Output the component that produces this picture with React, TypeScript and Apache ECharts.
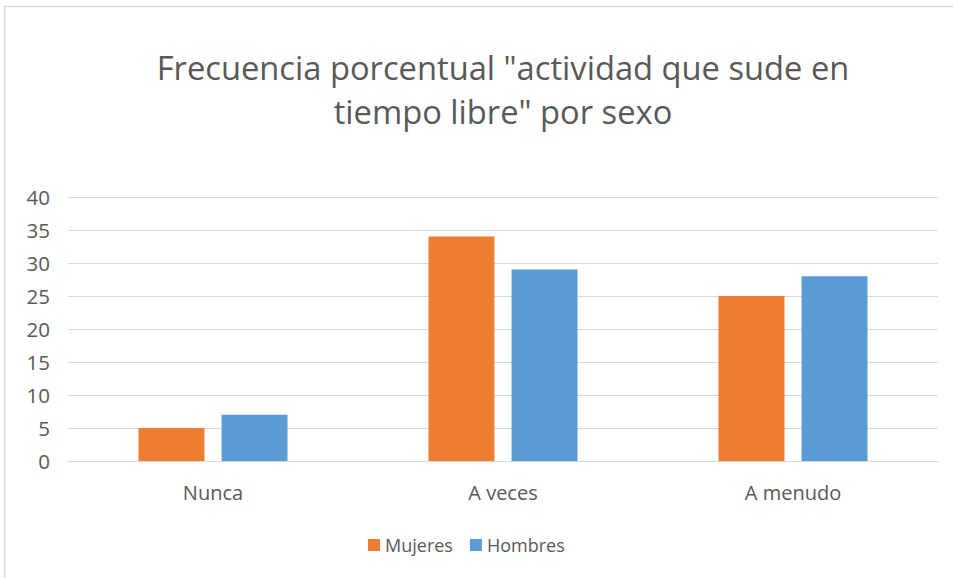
import React, { useEffect, useRef } from "react";
import * as echarts from "echarts";

const categories = ["Nunca", "A veces", "A menudo"];
const mujeres = [5, 34, 25];
const hombres = [7, 29, 28];
const yTicks = { min: 0, max: 40, interval: 5 };
const titleLines = ['Frecuencia porcentual "actividad que sude en', 'tiempo libre" por sexo'];

export default function App() {
  const ref = useRef<HTMLDivElement>(null);
  useEffect(() => {
    if (!ref.current) return;
    const chart = echarts.init(ref.current, undefined, { renderer: "svg" });
    const font = "Open Sans";
    const textColor = "#595959";
    chart.setOption({
      animation: false,
      backgroundColor: "#ffffff",
      title: {
        text: titleLines.join("\n"),
        left: 498,
        textAlign: "center",
        top: 40,
        textStyle: {
          fontFamily: font,
          fontSize: 32.7,
          fontWeight: "normal",
          color: textColor,
          lineHeight: 44,
        },
      },
      legend: {
        data: ["Mujeres", "Hombres"],
        top: 536,
        left: 368,
        padding: 0,
        icon: "rect",
        itemWidth: 12,
        itemHeight: 12,
        itemGap: 17,
        textStyle: { fontFamily: font, fontSize: 18, color: textColor },
      },
      grid: { left: 68, right: 15, top: 197, bottom: 117, containLabel: false },
      xAxis: {
        type: "category",
        data: categories,
        axisLine: { show: true, lineStyle: { color: "#D9D9D9" } },
        axisTick: { show: false },
        axisLabel: { fontFamily: font, fontSize: 20, color: textColor, margin: 21 },
      },
      yAxis: {
        type: "value",
        min: yTicks.min,
        max: yTicks.max,
        interval: yTicks.interval,
        axisLine: { show: false },
        axisTick: { show: false },
        splitLine: { lineStyle: { color: "#D9D9D9", width: 1 } },
        axisLabel: { fontFamily: font, fontSize: 20.5, color: textColor, margin: 18 },
      },
      series: [
        {
          name: "Mujeres",
          type: "bar",
          data: mujeres,
          itemStyle: { color: "#ED7D31" },
          barGap: "26%",
          barCategoryGap: "48.6%",
        },
        {
          name: "Hombres",
          type: "bar",
          data: hombres,
          itemStyle: { color: "#5B9BD5" },
        },
      ],
      graphic: [
        { type: "line", shape: { x1: 4.5, y1: 6, x2: 4.5, y2: 578 }, style: { stroke: "#D9D9D9", lineWidth: 1.5 } },
        { type: "line", shape: { x1: 4, y1: 6.5, x2: 953, y2: 6.5 }, style: { stroke: "#D9D9D9", lineWidth: 1.5 } },
      ],
    });
    return () => chart.dispose();
  }, []);
  return <div ref={ref} style={{ position: "fixed", left: 0, top: 0, width: 953, height: 578 }} />;
}
